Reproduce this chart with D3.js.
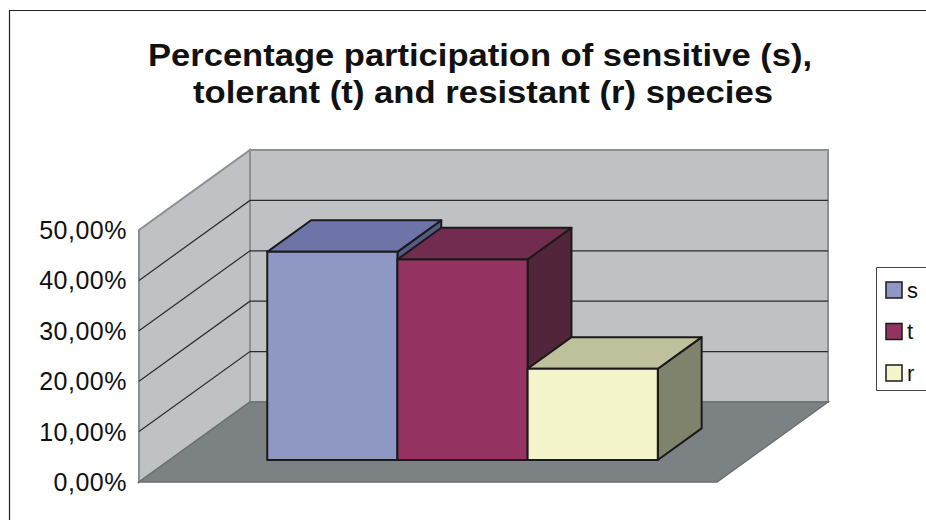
<!DOCTYPE html>
<html lang="en">
<head>
    <meta charset="UTF-8">
    <title>Percentage participation of species</title>
    <script src="https://d3js.org/d3.v7.min.js"></script>
    <style>
        body { margin: 0; background: #fff; overflow: hidden; }
        svg { display: block; }
        text { font-family: "Liberation Sans", Arial, sans-serif; }
    </style>
</head>
<body>
<script>
    const series = ["s", "t", "r"];
    const values = [0.413, 0.398, 0.181];
    const yTicks = [0, 0.1, 0.2, 0.3, 0.4, 0.5];
    const titleLines = ["Percentage participation of sensitive (s),", "tolerant (t) and resistant (r) species"];

    const colors = {
        s: { front: "#8f98c5", top: "#6e74a8", side: "#555b85" },
        t: { front: "#953462", top: "#722c4f", side: "#53253a" },
        r: { front: "#f5f5cb", top: "#bfc09c", side: "#80836b" }
    };

    const width = 926;
    const height = 520;

    // floor front-left corner, floor width and depth vector
    const x0 = 139, y0 = 482;
    const floorW = 578;
    const depthX = 111, depthY = -80;
    const barFront = 0.275, barBack = 0.67;

    const svg = d3.select("body").append("svg")
        .attr("width", width)
        .attr("height", height);

    // chart border: right and bottom edges are cut off by the picture
    svg.append("path")
        .attr("d", `M${width},10.5H9.5V${height}`)
        .attr("fill", "none")
        .attr("stroke", "#222")
        .attr("stroke-width", 1.2);

    const yScale = d3.scaleLinear()
        .domain([0, 0.5])
        .range([0, 252]);

    const xScale = d3.scaleBand()
        .domain(series)
        .range([4, floorW + 4])
        .paddingInner(0)
        .paddingOuter(0.72);

    const proj = (x, v, d) => [x0 + x + d * depthX, y0 - yScale(v) + d * depthY];
    const poly = d3.line().curve(d3.curveLinearClosed);
    const vMax = yScale.domain()[1];

    // walls and floor
    svg.append("path")
        .attr("d", poly([proj(0, 0, 0), proj(0, vMax, 0), proj(0, vMax, 1), proj(0, 0, 1)]))
        .attr("fill", "#c0c1c4")
        .attr("stroke", "#8b9093")
        .attr("stroke-width", 2);

    svg.append("path")
        .attr("d", poly([proj(0, 0, 1), proj(0, vMax, 1), proj(floorW, vMax, 1), proj(floorW, 0, 1)]))
        .attr("fill", "#c0c1c4")
        .attr("stroke", "#8b9093")
        .attr("stroke-width", 2);

    svg.append("path")
        .attr("d", poly([proj(0, 0, 0), proj(0, 0, 1), proj(floorW, 0, 1), proj(floorW, 0, 0)]))
        .attr("fill", "#7c8284")
        .attr("stroke", "#6a6f71")
        .attr("stroke-width", 1.5);

    // gridlines
    const grid = yTicks.filter(v => v > 0 && v < vMax);
    svg.append("g").selectAll("path")
        .data(grid)
        .join("path")
        .attr("d", v => d3.line()([proj(0, v, 0), proj(0, v, 1), proj(floorW, v, 1)]))
        .attr("fill", "none")
        .attr("stroke", "#2b2b2b")
        .attr("stroke-width", 1.2);

    // y tick labels
    const fmt = v => (v * 100).toFixed(2).replace(".", ",") + "%";
    svg.append("g").selectAll("text")
        .data(yTicks)
        .join("text")
        .attr("x", 127)
        .attr("y", v => proj(0, v, 0)[1])
        .attr("dy", "0.36em")
        .attr("text-anchor", "end")
        .attr("font-size", 25)
        .attr("letter-spacing", 0.5)
        .attr("fill", "#111")
        .text(fmt);

    // 3D columns
    const bars = svg.append("g");
    series.forEach((k, i) => {
        const xa = xScale(k), xb = xa + xScale.bandwidth();
        const v = values[i];
        const g = bars.append("g")
            .attr("stroke", "#1a1a1a")
            .attr("stroke-width", 2)
            .attr("stroke-linejoin", "round");
        g.append("path")
            .attr("fill", colors[k].side)
            .attr("d", poly([proj(xb, 0, barFront), proj(xb, v, barFront), proj(xb, v, barBack), proj(xb, 0, barBack)]));
        g.append("path")
            .attr("fill", colors[k].top)
            .attr("d", poly([proj(xa, v, barFront), proj(xa, v, barBack), proj(xb, v, barBack), proj(xb, v, barFront)]));
        g.append("path")
            .attr("fill", colors[k].front)
            .attr("d", poly([proj(xa, 0, barFront), proj(xa, v, barFront), proj(xb, v, barFront), proj(xb, 0, barFront)]));
    });

    // title
    const titleLen = [664, 580];
    svg.append("g").selectAll("text")
        .data(titleLines)
        .join("text")
        .attr("x", (d, i) => i === 0 ? 148 : 193)
        .attr("y", (d, i) => 66 + i * 37)
        .attr("font-size", 31)
        .attr("font-weight", "bold")
        .attr("fill", "#111")
        .attr("textLength", (d, i) => titleLen[i])
        .attr("lengthAdjust", "spacingAndGlyphs")
        .text(d => d);

    // legend box, open on the right where the picture ends
    const legend = svg.append("g");
    legend.append("path")
        .attr("d", `M${width},267.5H876.5V390.5H${width}`)
        .attr("fill", "#fff")
        .attr("stroke", "#444")
        .attr("stroke-width", 1);

    const item = legend.selectAll("g.item")
        .data(series)
        .join("g")
        .attr("class", "item")
        .attr("transform", (d, i) => `translate(886, ${290 + i * 41.5})`);

    item.append("rect")
        .attr("x", 0).attr("y", -8)
        .attr("width", 16).attr("height", 16)
        .attr("fill", d => colors[d].front)
        .attr("stroke", "#1a1a1a")
        .attr("stroke-width", 1.5);

    item.append("text")
        .attr("x", 21)
        .attr("dy", "0.36em")
        .attr("font-size", 22)
        .attr("fill", "#111")
        .text(d => d);
</script>
</body>
</html>
